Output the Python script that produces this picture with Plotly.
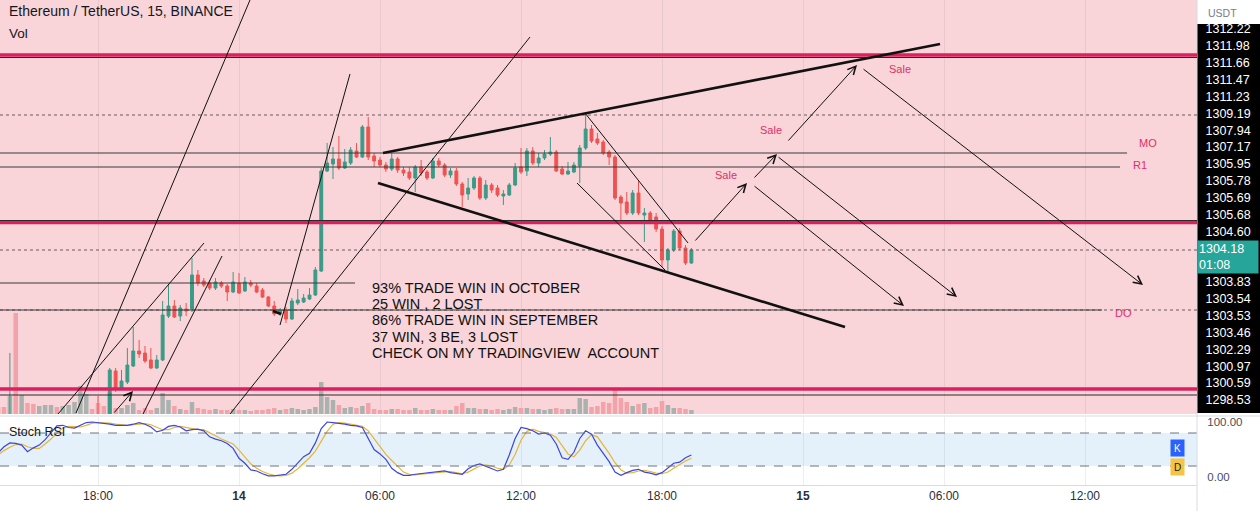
import pandas as pd
import plotly.graph_objects as go

# ---------------- data (15-minute bars, 13 Oct 13:45 -> 14 Oct 19:15) ----------------
T0 = pd.Timestamp("2022-10-13 14:00")
BAR = pd.Timedelta(minutes=15)
FIRST_BAR = -1  # first bar is 13:45

opens = [1296.90, 1296.50, 1296.10, 1296.90, 1295.60, 1296.30, 1296.00, 1295.80, 1296.20, 1296.60,
         1296.90, 1296.70, 1297.00, 1297.10, 1297.20, 1297.40, 1297.45, 1297.30, 1297.20, 1297.62,
         1299.34, 1298.66, 1298.90, 1299.54, 1300.14, 1300.06, 1299.78, 1299.46, 1299.78, 1301.54,
         1301.94, 1301.54, 1301.82, 1301.82, 1303.18, 1302.94, 1302.86, 1302.66, 1302.86, 1302.74,
         1302.50, 1302.86, 1302.54, 1302.86, 1302.74, 1302.58, 1302.30, 1301.94, 1301.62, 1301.78,
         1301.42, 1302.06, 1302.10, 1302.22, 1302.38, 1303.34, 1307.34, 1307.62, 1307.82, 1307.46,
         1307.66, 1308.14, 1307.90, 1309.10, 1307.94, 1307.78, 1307.58, 1307.42, 1307.82, 1307.38,
         1307.30, 1307.06, 1307.50, 1307.30, 1307.06, 1307.74, 1307.58, 1307.18, 1307.34, 1306.82,
         1306.42, 1306.66, 1307.06, 1306.26, 1306.78, 1306.66, 1306.34, 1306.38, 1306.78, 1307.50,
         1307.34, 1308.14, 1307.66, 1307.86, 1308.02, 1308.10, 1307.42, 1307.22, 1307.30, 1307.54,
         1308.26, 1309.02, 1308.62, 1308.50, 1308.10, 1307.90, 1306.30, 1306.10, 1305.66, 1306.46,
         1305.58, 1305.66, 1305.50, 1305.02, 1303.78, 1304.18, 1304.94, 1304.26, 1303.66]
highs = [1297.20, 1296.80, 1300.06, 1297.30, 1296.60, 1296.50, 1296.20, 1296.30, 1296.70, 1297.00,
         1297.00, 1297.10, 1297.20, 1297.30, 1297.45, 1297.50, 1297.50, 1298.34, 1297.40, 1299.46,
         1299.46, 1299.38, 1300.26, 1301.10, 1300.58, 1300.34, 1300.26, 1299.98, 1302.14, 1302.78,
         1302.18, 1301.98, 1302.06, 1303.86, 1303.38, 1303.06, 1302.98, 1303.06, 1302.94, 1302.82,
         1303.30, 1303.26, 1303.10, 1302.98, 1302.86, 1302.66, 1302.34, 1302.14, 1301.86, 1301.90,
         1302.26, 1302.62, 1302.42, 1302.66, 1303.50, 1307.46, 1308.46, 1308.30, 1308.74, 1308.22,
         1308.30, 1308.46, 1309.18, 1309.50, 1308.06, 1307.90, 1307.70, 1308.06, 1307.90, 1307.50,
         1307.50, 1307.58, 1307.78, 1307.38, 1307.86, 1307.86, 1307.66, 1307.46, 1307.46, 1306.90,
         1307.06, 1307.14, 1307.14, 1306.98, 1306.86, 1306.78, 1306.58, 1306.86, 1307.66, 1308.26,
         1308.26, 1308.30, 1308.06, 1308.18, 1308.70, 1308.18, 1307.54, 1307.70, 1307.70, 1308.38,
         1309.66, 1309.18, 1308.86, 1308.58, 1308.18, 1307.98, 1306.38, 1306.50, 1306.58, 1306.98,
         1305.86, 1305.74, 1305.66, 1305.14, 1304.26, 1305.02, 1305.06, 1304.38, 1304.26]
lows = [1296.30, 1295.90, 1295.80, 1295.20, 1295.40, 1295.90, 1295.60, 1295.70, 1296.10, 1296.50,
        1296.60, 1296.60, 1296.80, 1296.90, 1297.00, 1297.10, 1297.10, 1297.00, 1296.90, 1297.40,
        1298.50, 1298.58, 1298.82, 1299.50, 1299.86, 1299.66, 1299.42, 1299.42, 1299.74, 1301.46,
        1301.46, 1301.34, 1301.54, 1301.70, 1302.74, 1302.70, 1302.58, 1302.58, 1302.66, 1302.14,
        1302.46, 1302.42, 1302.50, 1302.70, 1302.46, 1302.26, 1301.90, 1301.54, 1301.54, 1301.26,
        1301.38, 1301.98, 1302.06, 1302.18, 1302.34, 1303.30, 1307.30, 1307.02, 1307.38, 1307.42,
        1307.58, 1307.86, 1307.86, 1307.78, 1307.50, 1307.50, 1307.30, 1307.34, 1307.26, 1307.14,
        1306.98, 1306.50, 1307.14, 1306.98, 1307.02, 1307.50, 1307.10, 1307.06, 1306.74, 1305.90,
        1306.18, 1306.58, 1306.18, 1306.18, 1306.46, 1306.30, 1305.98, 1306.34, 1306.74, 1307.22,
        1307.14, 1307.58, 1307.50, 1307.78, 1307.94, 1307.30, 1307.18, 1307.18, 1307.26, 1306.86,
        1308.18, 1308.46, 1308.38, 1307.98, 1307.58, 1306.18, 1305.38, 1305.58, 1305.58, 1305.58,
        1304.50, 1305.30, 1304.90, 1303.50, 1303.30, 1304.10, 1304.18, 1303.58, 1303.62]
closes = [1296.50, 1296.10, 1296.90, 1295.60, 1296.30, 1296.00, 1295.80, 1296.20, 1296.60, 1296.90,
          1296.70, 1297.00, 1297.10, 1297.20, 1297.40, 1297.45, 1297.30, 1297.20, 1297.10, 1299.38,
          1298.66, 1298.94, 1299.58, 1300.14, 1300.02, 1299.74, 1299.46, 1299.78, 1301.58, 1301.94,
          1301.50, 1301.86, 1301.74, 1303.18, 1302.86, 1302.78, 1302.66, 1302.90, 1302.74, 1302.50,
          1302.90, 1302.46, 1302.90, 1302.78, 1302.50, 1302.30, 1301.94, 1301.62, 1301.78, 1301.42,
          1302.14, 1302.18, 1302.26, 1302.38, 1303.38, 1307.34, 1307.66, 1307.82, 1307.46, 1307.70,
          1308.18, 1307.90, 1309.10, 1307.90, 1307.74, 1307.58, 1307.42, 1307.82, 1307.38, 1307.26,
          1307.06, 1307.50, 1307.26, 1307.06, 1307.74, 1307.58, 1307.18, 1307.34, 1306.82, 1306.38,
          1306.66, 1307.06, 1306.26, 1306.78, 1306.58, 1306.38, 1306.42, 1306.78, 1307.46, 1307.30,
          1308.14, 1307.66, 1307.86, 1308.02, 1308.10, 1307.34, 1307.22, 1307.34, 1307.58, 1308.26,
          1309.02, 1308.54, 1308.46, 1308.06, 1307.90, 1306.26, 1306.06, 1305.66, 1306.46, 1305.66,
          1305.66, 1305.38, 1305.02, 1303.78, 1304.18, 1304.94, 1304.26, 1303.66, 1304.18]
volumes = [7, 7, 18, 101, 19, 11, 10, 8, 9, 9, 7, 8, 9, 12, 28, 20, 5, 11, 8, 21,
           6, 6, 9, 11, 4, 6, 4, 6, 21, 14, 8, 5, 4, 12, 6, 5, 4, 5, 4, 4,
           5, 4, 4, 3, 4, 4, 5, 6, 4, 5, 6, 5, 4, 5, 7, 32, 17, 14, 9, 6,
           7, 6, 8, 11, 5, 4, 4, 5, 5, 4, 4, 6, 4, 4, 5, 4, 4, 4, 8, 11,
           6, 6, 5, 5, 4, 5, 4, 5, 7, 6, 6, 5, 5, 4, 5, 6, 5, 5, 5, 16,
           15, 7, 8, 12, 11, 25, 16, 12, 8, 10, 11, 6, 7, 13, 9, 6, 6, 5, 4]
stoch_k = [44, 55, 62, 61, 58, 46, 53, 58, 68, 80, 93, 94, 90, 89, 94, 99, 100, 99, 98, 96,
           94, 94, 94, 96, 99, 96, 91, 82, 85, 92, 94, 91, 84, 86, 87, 84, 73, 69, 66, 61,
           52, 34, 25, 13, 11, 6, 2, 2, 3, 5, 14, 25, 37, 43, 62, 88, 100, 99, 98, 96,
           94, 93, 90, 70, 50, 42, 32, 16, 8, 3, 3, 5, 6, 7, 8, 10, 11, 8, 6, 5,
           15, 21, 24, 20, 16, 11, 14, 40, 70, 90, 88, 84, 78, 80, 76, 60, 35, 32, 45, 70,
           84, 78, 58, 42, 28, 9, 3, 8, 12, 14, 9, 7, 4, 8, 16, 25, 27, 35, 40]
stoch_d = [40, 48, 54, 59, 60, 55, 52, 52, 60, 69, 80, 89, 92, 91, 91, 94, 98, 99, 99, 98,
           96, 95, 94, 95, 96, 97, 95, 90, 86, 86, 90, 92, 90, 87, 86, 86, 81, 75, 69, 65,
           60, 49, 37, 24, 16, 10, 6, 3, 2, 3, 7, 15, 25, 35, 47, 64, 83, 96, 99, 98,
           96, 94, 92, 84, 70, 54, 41, 30, 19, 9, 5, 4, 5, 6, 7, 8, 10, 10, 8, 6,
           9, 14, 20, 22, 20, 16, 14, 22, 41, 67, 83, 87, 83, 81, 78, 72, 57, 42, 37, 49,
           66, 77, 73, 59, 43, 26, 13, 7, 8, 11, 12, 10, 7, 6, 9, 16, 23, 29, 34]

# x-axis ticks
tick_times = ["2022-10-13 18:00", "2022-10-14 00:00", "2022-10-14 06:00", "2022-10-14 12:00",
              "2022-10-14 18:00", "2022-10-15 00:00", "2022-10-15 06:00", "2022-10-15 12:00"]
tick_text = ["18:00", "<b>14</b>", "06:00", "12:00", "18:00", "<b>15</b>", "06:00", "12:00"]

# price-scale labels (stacked label column of the chart)
price_labels = ["1312.22", "1311.98", "1311.66", "1311.47", "1311.23", "1309.19", "1307.94",
                "1307.17", "1305.95", "1305.78", "1305.69", "1305.68", "1304.60", None, None,
                "1303.83", "1303.54", "1303.53", "1303.46", "1302.29", "1300.97", "1300.59", "1298.53"]
last_price_label = "1304.18"
countdown_label = "01:08"

# drawings: anchor points (bar offset from 13 Oct 14:00, price)
thin_lines = [((12.26, 1297.66), (41.87, 1314.18)),
              ((9.19, 1297.62), (34.04, 1304.46)),
              ((23.66, 1297.62), (37.11, 1303.94)),
              ((46.98, 1301.18), (58.89, 1311.22)),
              ((38.47, 1297.62), (89.53, 1312.70)),
              ((98.89, 1309.66), (116.43, 1304.46)),
              ((97.53, 1306.86), (112.51, 1303.38))]
thick_lines = [((64.51, 1308.06), (159.32, 1312.42)),
               ((63.66, 1306.86), (143.15, 1301.10)),
               ((45.79, 1301.74), (47.15, 1301.62))]
arrows = [((18.55, 1297.62), (21.96, 1298.54)),
          ((117.45, 1304.50), (126.47, 1306.86)),
          ((127.49, 1307.02), (131.57, 1308.02)),
          ((133.28, 1308.50), (145.19, 1311.58)),
          ((127.49, 1306.78), (153.19, 1301.94)),
          ((131.57, 1307.94), (162.21, 1302.30)),
          ((146.04, 1311.46), (193.87, 1302.78))]
red_levels = [1311.98, 1305.28, 1298.62]
black_full_levels = [1311.88, 1305.36, 1298.38]
black_ray_levels = [(1308.06, 191.15), (1307.50, 189.96), (1302.86, 59.74), (1301.78, 186.9)]
dotted_levels = [1309.58, 1304.18, 1301.78]
labels_red = [("Sale", 130.55, 1308.98), ("Sale", 122.9, 1307.18), ("Sale", 152.5, 1311.42),
              ("MO", 194.7, 1308.46), ("R1", 193.4, 1307.58), ("DO", 190.6, 1301.66)]
note_lines = ["93% TRADE WIN IN OCTOBER", "25 WIN , 2 LOST", "86% TRADE WIN IN SEPTEMBER",
              "37 WIN, 3 BE, 3 LOST", "CHECK ON MY TRADINGVIEW  ACCOUNT"]
note_prices = [1302.66, 1302.02, 1301.38, 1300.70, 1300.06]
note_bar = 62.3

# ---------------- helpers / layout geometry ----------------
W, H = 1260, 511
PLOT_W = 1197


def bt(b):
    return T0 + BAR * b


def py(pix):
    return (H - pix) / H


times = [bt(FIRST_BAR + k) for k in range(len(opens))]
x_range = [bt(-0.681), bt(203.06)]
price_range = [1297.62, 1314.18]
main_dom = [py(414), 1.0]
rsi_dom = [py(485), py(417)]

UP, DOWN = "#3a9b87", "#ef5350"
VOL_UP, VOL_DOWN = "#a9b2ae", "#f2a2a9"
PINK = "#f9d4d8"
CRIMSON = "#dd1f5f"
LABEL_RED = "#e0306a"

vol_colors = [VOL_UP if c >= o else VOL_DOWN for o, c in zip(opens, closes)]

fig = go.Figure()
fig.add_trace(go.Bar(x=times, y=volumes, marker_color=vol_colors, marker_line_width=0,
                     width=0.76 * 15 * 60 * 1000, xaxis="x", yaxis="y", hoverinfo="skip"))
fig.add_trace(go.Candlestick(x=times, open=opens, high=highs, low=lows, close=closes,
                             xaxis="x", yaxis="y2",
                             increasing=dict(line=dict(color=UP, width=1), fillcolor=UP),
                             decreasing=dict(line=dict(color=DOWN, width=1), fillcolor=DOWN),
                             whiskerwidth=0, hoverinfo="skip"))
fig.add_trace(go.Scatter(x=times, y=stoch_d, mode="lines", line=dict(color="#e9b431", width=1.2),
                         xaxis="x2", yaxis="y3", hoverinfo="skip"))
fig.add_trace(go.Scatter(x=times, y=stoch_k, mode="lines", line=dict(color="#3c46dc", width=1.2),
                         xaxis="x2", yaxis="y3", hoverinfo="skip"))
fig.add_trace(go.Scatter(x=[times[0]], y=[0], mode="markers", marker=dict(opacity=0),
                         xaxis="x", yaxis="y4", hoverinfo="skip"))

shapes = []
# pane backgrounds
shapes.append(dict(type="rect", xref="paper", yref="paper", x0=0, x1=1, y0=main_dom[0], y1=1,
                   fillcolor=PINK, line=dict(width=0), layer="below"))
shapes.append(dict(type="rect", xref="paper", yref="y3", x0=0, x1=1, y0=20, y1=80,
                   fillcolor="#e4f1fb", line=dict(width=0), layer="below"))
for lv in (20, 80):
    shapes.append(dict(type="line", xref="paper", yref="y3", x0=0, x1=1, y0=lv, y1=lv,
                       line=dict(color="#6f7380", width=1, dash="dash")))
# pane separator and price-scale background
shapes.append(dict(type="line", xref="paper", yref="paper", x0=0, x1=W / PLOT_W, y0=py(416), y1=py(416),
                   line=dict(color="#d8dbe3", width=1)))
shapes.append(dict(type="rect", xref="paper", yref="paper", x0=1.0, x1=W / PLOT_W,
                   y0=py(413), y1=py(24), fillcolor="#000000", line=dict(width=0), layer="below"))
shapes.append(dict(type="line", xref="paper", yref="paper", x0=1.0, x1=1.0, y0=0, y1=1,
                   line=dict(color="#d8dbe3", width=1)))
# horizontal levels
for p in dotted_levels:
    shapes.append(dict(type="line", xref="paper", yref="y2", x0=0, x1=1, y0=p, y1=p,
                       line=dict(color="#6a5a5e", width=1, dash="dot")))
for p in red_levels:
    shapes.append(dict(type="line", xref="paper", yref="y2", x0=0, x1=1, y0=p, y1=p,
                       line=dict(color=CRIMSON, width=3.5)))
for p in black_full_levels:
    shapes.append(dict(type="line", xref="paper", yref="y2", x0=0, x1=1, y0=p, y1=p,
                       line=dict(color="#2a2a2a", width=1.2)))
for p, end in black_ray_levels:
    shapes.append(dict(type="line", xref="x", yref="y2", x0=x_range[0], x1=bt(end), y0=p, y1=p,
                       line=dict(color="#3a3a3a", width=1)))
# trend lines
for (a, b) in thin_lines:
    shapes.append(dict(type="line", xref="x", yref="y2", x0=bt(a[0]), y0=a[1], x1=bt(b[0]), y1=b[1],
                       line=dict(color="#111111", width=1)))
for (a, b) in thick_lines:
    shapes.append(dict(type="line", xref="x", yref="y2", x0=bt(a[0]), y0=a[1], x1=bt(b[0]), y1=b[1],
                       line=dict(color="#111111", width=2.6)))

ann = []
for (a, b) in arrows:
    ann.append(dict(xref="x", yref="y2", axref="x", ayref="y2", x=bt(b[0]), y=b[1],
                    ax=bt(a[0]), ay=a[1], text="", showarrow=True, arrowhead=5,
                    arrowsize=1.6, arrowwidth=1, arrowcolor="#111111"))
for txt, b, p in labels_red:
    ann.append(dict(xref="x", yref="y2", x=bt(b), y=p, text=txt, showarrow=False,
                    font=dict(color=LABEL_RED, size=11)))
for txt, p in zip(note_lines, note_prices):
    ann.append(dict(xref="x", yref="y2", x=bt(note_bar), y=p, text=txt, showarrow=False,
                    xanchor="left", yanchor="middle", font=dict(color="#111111", size=14.5)))
# titles
ann.append(dict(xref="paper", yref="paper", x=7 / PLOT_W, y=py(11), text="Ethereum / TetherUS, 15, BINANCE",
                showarrow=False, xanchor="left", yanchor="middle", font=dict(size=14, color="#131722")))
ann.append(dict(xref="paper", yref="paper", x=7 / PLOT_W, y=py(33), text="Vol",
                showarrow=False, xanchor="left", yanchor="middle", font=dict(size=13.5, color="#131722")))
ann.append(dict(xref="paper", yref="paper", x=7 / PLOT_W, y=py(432), text="Stoch RSI",
                showarrow=False, xanchor="left", yanchor="middle", font=dict(size=12.5, color="#131722")))
ann.append(dict(xref="paper", yref="paper", x=1206 / PLOT_W, y=py(13), text="USDT",
                showarrow=False, xanchor="left", yanchor="middle", font=dict(size=10.5, color="#787b86")))
# last price box
ann.append(dict(xref="paper", yref="y4", x=1.0, y=13.5, text=last_price_label + "<br>" + countdown_label,
                showarrow=False, xanchor="left", align="left", bgcolor="#26a69a", width=58, height=30,
                borderpad=1, font=dict(size=12.5, color="#ffffff")))
# K / D value boxes
ann.append(dict(xref="paper", yref="paper", x=1185 / PLOT_W, y=py(457), text="K", showarrow=False,
                bgcolor="#2962ff", width=11, height=14, font=dict(size=10, color="#ffffff")))
ann.append(dict(xref="paper", yref="paper", x=1185 / PLOT_W, y=py(476), text="D", showarrow=False,
                bgcolor="#f5c542", width=11, height=14, font=dict(size=10, color="#131722")))

slot_vals = [k for k, t in enumerate(price_labels) if t]
slot_text = [t for t in price_labels if t]

grid = "rgba(90,90,110,0.10)"
fig.update_layout(
    width=W, height=H, margin=dict(l=0, r=W - PLOT_W, t=0, b=0),
    paper_bgcolor="#ffffff", plot_bgcolor="#ffffff", showlegend=False,
    font=dict(family="Liberation Sans, Arial, sans-serif"),
    xaxis=dict(domain=[0, 1], anchor="y", type="date", range=x_range, tickvals=tick_times,
               showticklabels=False, showgrid=True, gridcolor=grid, zeroline=False,
               rangeslider=dict(visible=False), fixedrange=True),
    xaxis2=dict(domain=[0, 1], anchor="y3", type="date", range=x_range, matches="x",
                tickvals=tick_times, ticktext=tick_text, showgrid=True, gridcolor=grid,
                tickfont=dict(size=12, color="#2a2e39"), ticks="", showline=True,
                linecolor="#d8dbe3", zeroline=False, rangeslider=dict(visible=False)),
    yaxis=dict(domain=main_dom, anchor="x", range=[0, 414], visible=False, fixedrange=True),
    yaxis2=dict(domain=main_dom, anchor="x", overlaying="y", range=price_range, visible=False),
    yaxis4=dict(domain=main_dom, anchor="x", overlaying="y", side="right", range=[22.84, -1.72],
                tickvals=slot_vals, ticktext=slot_text, showgrid=False, zeroline=False,
                ticks="outside", ticklen=5, tickcolor="#000000",
                tickfont=dict(size=12.5, color="#ffffff"), showline=False,
                showticklabels=True, visible=True),
    yaxis3=dict(domain=rsi_dom, anchor="x2", side="right", range=[-14.5, 109.1],
                tickvals=[100, 0], ticktext=["100.00", "0.00"], showgrid=False, zeroline=False,
                ticks="outside", ticklen=7, tickcolor="#ffffff",
                tickfont=dict(size=11.5, color="#4a4e59")),
    shapes=shapes, annotations=ann,
)

fig.write_html("out.html")
